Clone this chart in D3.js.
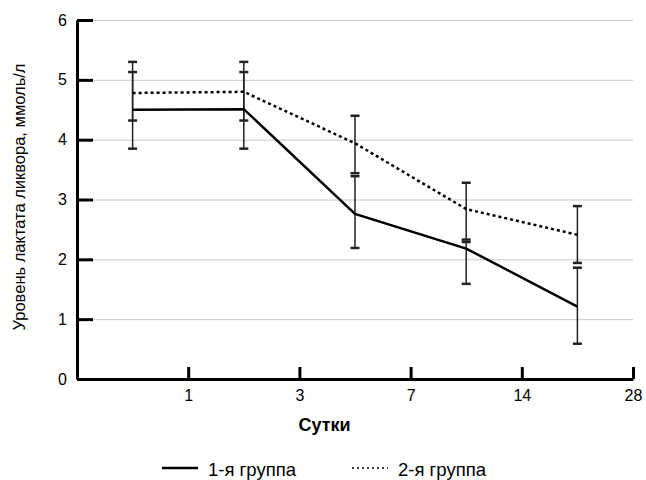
<!DOCTYPE html>
<html lang="ru">
<head>
<meta charset="UTF-8">
<title>Лактат ликвора</title>
<script src="https://cdn.jsdelivr.net/npm/d3@7"></script>
<style>
    body { margin: 0; background: #fff; }
    svg { display: block; font-family: "Liberation Sans", Arial, sans-serif; }
    .axis text { font-size: 16px; fill: #000; }
    .grid line { stroke: #c8c8c8; stroke-width: 1px; }
    .grid path { display: none; }
</style>
</head>
<body>
<script>
    /******* DATA *******/
    const days = ["1", "3", "7", "14", "28"];
    const yTicks = [0, 1, 2, 3, 4, 5, 6];
    // 1-я группа
    const group1 = [4.50, 4.51, 2.76, 2.18, 1.21];
    const group1Low = [3.85, 3.85, 2.19, 1.59, 0.59];
    const group1High = [5.13, 5.13, 3.39, 2.29, 1.86];
    // 2-я группа
    const group2 = [4.78, 4.80, 3.94, 2.84, 2.41];
    const group2Low = [4.32, 4.32, 3.44, 2.33, 1.94];
    const group2High = [5.30, 5.30, 4.40, 3.28, 2.89];
    const seriesNames = ["1-я группа", "2-я группа"];

    /******* SVG *******/
    const width = 646, height = 480;
    const svg = d3.select("body").append("svg")
        .attr("width", width)
        .attr("height", height);

    const margins = { top: 20, bottom: 101, left: 77, right: 13 };

    // x: category i sits in the band [i, i+1], labels at the right edge
    const xScale = d3.scaleLinear()
        .domain([0, days.length])
        .range([margins.left, width - margins.right]);
    const yScale = d3.scaleLinear()
        .domain([0, 6])
        .range([height - margins.bottom, margins.top]);

    // Grid
    svg.append("g")
        .attr("class", "grid")
        .attr("transform", `translate(${margins.left},0)`)
        .call(d3.axisLeft(yScale)
            .tickValues(yTicks.slice(1))
            .tickSize(-(width - margins.right - margins.left))
            .tickFormat(""));

    // Y axis
    svg.append("g")
        .attr("class", "axis")
        .attr("transform", `translate(${margins.left},0)`)
        .call(d3.axisLeft(yScale)
            .tickValues(yTicks)
            .tickFormat(d3.format("d"))
            .tickSizeInner(-16)
            .tickSizeOuter(0)
            .tickPadding(10))
        .call(g => g.selectAll("line, path").attr("stroke", "#000").attr("stroke-width", 3));

    // X axis
    svg.append("g")
        .attr("class", "axis")
        .attr("transform", `translate(0,${yScale(0)})`)
        .call(d3.axisBottom(xScale)
            .tickValues(d3.range(1, days.length + 1))
            .tickFormat(i => days[i - 1])
            .tickSizeInner(-12)
            .tickSizeOuter(0)
            .tickPadding(11))
        .call(g => g.selectAll("line, path").attr("stroke", "#000").attr("stroke-width", 3));

    /******* ERROR BARS *******/
    const cap = 4.5;
    function errorBars(low, high) {
        const g = svg.append("g")
            .attr("stroke", "#222")
            .attr("stroke-width", 1.5);
        const idx = d3.range(low.length);
        g.selectAll(".v").data(idx).enter().append("line")
            .attr("x1", i => xScale(i + 0.5)).attr("x2", i => xScale(i + 0.5))
            .attr("y1", i => yScale(low[i])).attr("y2", i => yScale(high[i]));
        g.selectAll(".lo").data(idx).enter().append("line")
            .attr("stroke-width", 2.5)
            .attr("x1", i => xScale(i + 0.5) - cap).attr("x2", i => xScale(i + 0.5) + cap)
            .attr("y1", i => yScale(low[i])).attr("y2", i => yScale(low[i]));
        g.selectAll(".hi").data(idx).enter().append("line")
            .attr("stroke-width", 2.5)
            .attr("x1", i => xScale(i + 0.5) - cap).attr("x2", i => xScale(i + 0.5) + cap)
            .attr("y1", i => yScale(high[i])).attr("y2", i => yScale(high[i]));
    }
    errorBars(group1Low, group1High);
    errorBars(group2Low, group2High);

    /******* LINES *******/
    const lineGen = d3.line()
        .x((d, i) => xScale(i + 0.5))
        .y(d => yScale(d));

    svg.append("path")
        .datum(group1)
        .attr("d", lineGen)
        .attr("fill", "none")
        .attr("stroke", "#000")
        .attr("stroke-width", 2.5);

    svg.append("path")
        .datum(group2)
        .attr("d", lineGen)
        .attr("fill", "none")
        .attr("stroke", "#000")
        .attr("stroke-width", 2.5)
        .attr("stroke-dasharray", "3,3");

    /******* TITLES *******/
    svg.append("text")
        .attr("x", 324.5)
        .attr("y", 431)
        .attr("text-anchor", "middle")
        .style("font-size", "18px")
        .style("font-weight", "bold")
        .text("Сутки");

    svg.append("text")
        .attr("transform", "translate(25,197) rotate(-90)")
        .attr("text-anchor", "middle")
        .style("font-size", "16.5px")
        .text("Уровень лактата ликвора, ммоль/л");

    /******* LEGEND *******/
    const legend = [
        { name: seriesNames[0], x: 162, dash: null, w: 2.5 },
        { name: seriesNames[1], x: 352, dash: "2,3", w: 1.5 }
    ];
    const lg = svg.append("g").attr("transform", "translate(0,468)");
    lg.selectAll("line").data(legend).enter().append("line")
        .attr("x1", d => d.x).attr("x2", d => d.x + 36)
        .attr("y1", 0).attr("y2", 0)
        .attr("stroke", "#000")
        .attr("stroke-width", d => d.w)
        .attr("stroke-dasharray", d => d.dash);
    lg.selectAll("text").data(legend).enter().append("text")
        .attr("x", d => d.x + 46)
        .attr("y", 2)
        .attr("dy", "0.35em")
        .style("font-size", "18.5px")
        .text(d => d.name);
</script>
</body>
</html>
